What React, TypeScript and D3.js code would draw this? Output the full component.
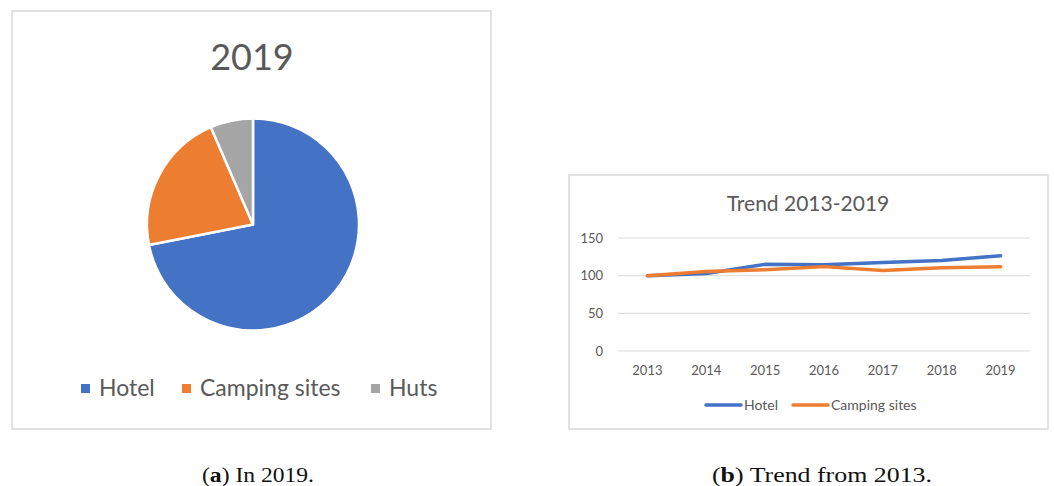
import React, { useEffect, useRef } from "react";
import * as d3 from "d3";

// pie: share of overnight stays in 2019
const pieCategories = ["Hotel", "Camping sites", "Huts"];
const pieValues = [71.9, 21.6, 6.5];
const pieColors = ["#4472C4", "#ED7D31", "#A5A5A5"];

// line: index (2013 = 100)
const years = ["2013", "2014", "2015", "2016", "2017", "2018", "2019"];
const hotelIndex = [100, 103, 115, 114.5, 117.5, 120, 126.5];
const campingIndex = [100, 105.5, 108, 112, 107, 110.5, 112];
const yTicks = [0, 50, 100, 150];
const lineSeries = ["Hotel", "Camping sites"];
const lineColors = ["#4472C4", "#ED7D31"];

const sans = "Lato, 'Open Sans', sans-serif";
const grey = "#595959";

const App = () => {
  const ref = useRef<SVGSVGElement>(null);

  useEffect(() => {
    const svg = d3.select(ref.current);
    svg.selectAll("*").remove();

    // ---------- (a) pie ----------
    svg
      .append("rect")
      .attr("x", 12)
      .attr("y", 11)
      .attr("width", 479)
      .attr("height", 418)
      .attr("fill", "#fff")
      .attr("stroke", "#d9d9d9")
      .attr("stroke-width", 1.5);

    svg
      .append("text")
      .attr("x", 252)
      .attr("y", 70)
      .attr("text-anchor", "middle")
      .attr("font-family", sans)
      .attr("font-size", 36)
      .attr("fill", grey)
      .text("2019");

    const pie = d3.pie<number>().sort(null)(pieValues);
    const arc = d3.arc<d3.PieArcDatum<number>>().innerRadius(0).outerRadius(106);

    svg
      .append("g")
      .attr("transform", "translate(253,224.5)")
      .selectAll("path")
      .data(pie)
      .enter()
      .append("path")
      .attr("d", arc)
      .attr("fill", (d, i) => pieColors[i])
      .attr("stroke", "#fff")
      .attr("stroke-width", 2.5)
      .attr("stroke-linejoin", "round");

    const pieLegendX = [81, 182, 371];
    const pl = svg
      .append("g")
      .selectAll("g")
      .data(pieCategories)
      .enter()
      .append("g")
      .attr("transform", (d, i) => `translate(${pieLegendX[i]},0)`);
    pl.append("rect")
      .attr("x", 0)
      .attr("y", 384)
      .attr("width", 9)
      .attr("height", 9)
      .attr("fill", (d, i) => pieColors[i]);
    pl.append("text")
      .attr("x", 18)
      .attr("y", 396)
      .attr("font-family", sans)
      .attr("font-size", 23)
      .attr("fill", grey)
      .text((d) => d);

    // ---------- (b) lines ----------
    svg
      .append("rect")
      .attr("x", 569)
      .attr("y", 175)
      .attr("width", 479)
      .attr("height", 254)
      .attr("fill", "#fff")
      .attr("stroke", "#d9d9d9")
      .attr("stroke-width", 1.5);

    svg
      .append("text")
      .attr("x", 808)
      .attr("y", 211)
      .attr("text-anchor", "middle")
      .attr("font-family", sans)
      .attr("font-size", 21)
      .attr("fill", grey)
      .text("Trend 2013-2019");

    const x = d3.scaleBand().domain(years).range([618, 1030]);
    const y = d3.scaleLinear().domain([0, 150]).range([351, 238]);

    // gridlines
    svg
      .append("g")
      .selectAll("line")
      .data(yTicks)
      .enter()
      .append("line")
      .attr("x1", 618)
      .attr("x2", 1030)
      .attr("y1", (d) => y(d))
      .attr("y2", (d) => y(d))
      .attr("stroke", "#d9d9d9")
      .attr("stroke-width", 1);

    svg
      .append("g")
      .selectAll("text")
      .data(yTicks)
      .enter()
      .append("text")
      .attr("x", 603)
      .attr("y", (d) => y(d) + 4.5)
      .attr("text-anchor", "end")
      .attr("font-family", sans)
      .attr("font-size", 13)
      .attr("fill", grey)
      .text((d) => d);

    svg
      .append("g")
      .selectAll("text")
      .data(years)
      .enter()
      .append("text")
      .attr("x", (d) => (x(d) as number) + x.bandwidth() / 2)
      .attr("y", 375)
      .attr("text-anchor", "middle")
      .attr("font-family", sans)
      .attr("font-size", 13)
      .attr("fill", grey)
      .text((d) => d);

    const line = d3
      .line<number>()
      .x((d, i) => (x(years[i]) as number) + x.bandwidth() / 2)
      .y((d) => y(d));

    [hotelIndex, campingIndex].forEach((s, k) => {
      svg
        .append("path")
        .datum(s)
        .attr("d", line)
        .attr("fill", "none")
        .attr("stroke", lineColors[k])
        .attr("stroke-width", 3.5)
        .attr("stroke-linecap", "round")
        .attr("stroke-linejoin", "round");
    });

    const legX = [706, 793];
    const ll = svg
      .append("g")
      .selectAll("g")
      .data(lineSeries)
      .enter()
      .append("g")
      .attr("transform", (d, i) => `translate(${legX[i]},0)`);
    ll.append("line")
      .attr("x1", 0)
      .attr("x2", 35)
      .attr("y1", 405)
      .attr("y2", 405)
      .attr("stroke", (d, i) => lineColors[i])
      .attr("stroke-width", 3.5)
      .attr("stroke-linecap", "round");
    ll.append("text")
      .attr("x", 38)
      .attr("y", 409.5)
      .attr("font-family", sans)
      .attr("font-size", 14)
      .attr("fill", grey)
      .text((d) => d);

    // ---------- captions ----------
    const caps = [
      { x: 202, w: 112, label: "a", rest: " In 2019." },
      { x: 712, w: 220, label: "b", rest: " Trend from 2013." },
    ];
    caps.forEach((c) => {
      const t = svg
        .append("text")
        .attr("x", c.x)
        .attr("y", 482)
        .attr("font-family", "'Liberation Serif', 'DejaVu Serif', serif")
        .attr("font-size", 20)
        .attr("fill", "#111")
        .attr("textLength", c.w)
        .attr("lengthAdjust", "spacingAndGlyphs");
      t.append("tspan").text("(");
      t.append("tspan").attr("font-weight", "bold").text(c.label);
      t.append("tspan").text(")" + c.rest);
    });
  }, []);

  return (
    <svg
      ref={ref}
      width={1054}
      height={486}
      style={{ position: "absolute", left: 0, top: 0, background: "#fff" }}
    />
  );
};

export default App;
